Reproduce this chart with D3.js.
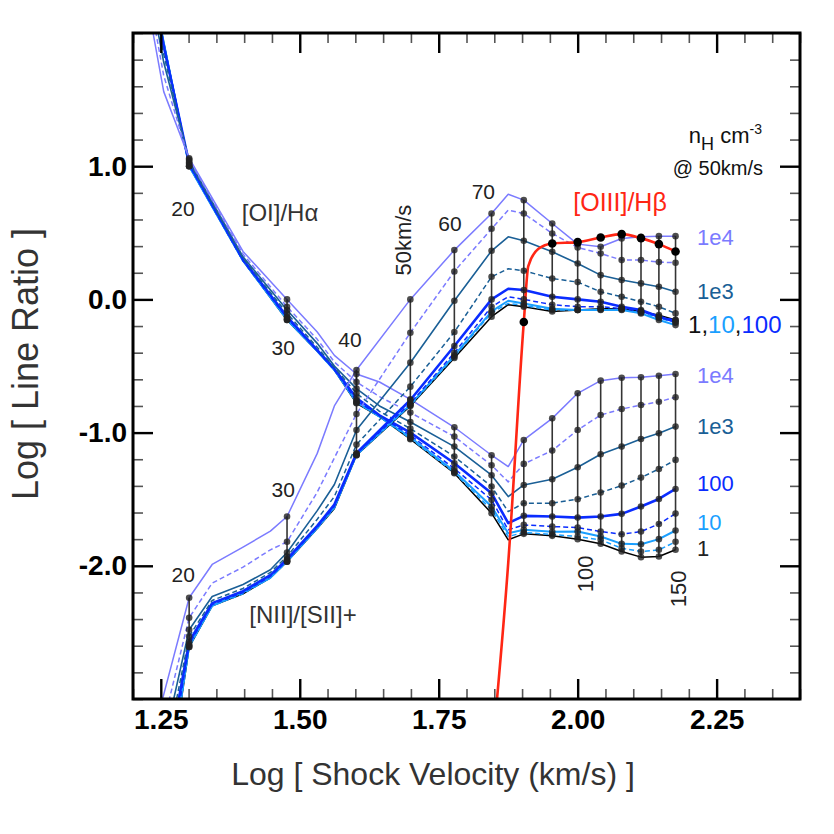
<!DOCTYPE html>
<html>
<head>
<meta charset="utf-8">
<script src="https://cdn.jsdelivr.net/npm/d3@7"></script>
<style>
  body { margin: 0; background: #fff; }
  text { font-family: "Liberation Sans", Helvetica, Arial, sans-serif; }
</style>
</head>
<body>
<svg id="chart" width="834" height="834"></svg>
<script>
// shock velocities (km/s) at the nodes of each family of curves
var oiVel  = [17, 18, 20, 25, 30, 34, 36.5, 40, 44, 50, 60, 70, 75, 80, 90, 100, 110, 120, 130, 140, 150];
var niiVel = [17, 20, 22, 25, 28, 30, 34, 36.5, 40, 50, 60, 70, 75, 80, 90, 100, 110, 120, 130, 140, 150];
// velocities that carry a model point (dot)
var dotVel = [20, 30, 40, 50, 60, 70, 80, 90, 100, 110, 120, 130, 140, 150];

// pre-shock densities nH (cm^-3)
var densities = ['1', '3', '10', '30', '100', '300', '1e3', '3e3', '1e4'];

// log [OI]/Halpha, one array per density
var oi1   = [2.45, 1.93, 1.00, 0.29, -0.155, -0.39, -0.53, -0.78, -0.88, -1.05, -1.305, -1.605, -1.805, -1.76, -1.775, -1.80, -1.835, -1.893, -1.935, -1.93, -1.88];
var oi3   = [2.45, 1.93, 1.00, 0.29, -0.155, -0.39, -0.53, -0.775, -0.88, -1.045, -1.30, -1.58, -1.78, -1.75, -1.765, -1.78, -1.805, -1.868, -1.893, -1.88, -1.82];
var oi10  = [2.45, 1.93, 1.00, 0.29, -0.15, -0.388, -0.53, -0.77, -0.88, -1.035, -1.29, -1.555, -1.755, -1.73, -1.745, -1.743, -1.78, -1.835, -1.838, -1.80, -1.735];
var oi30  = [2.45, 1.92, 1.01, 0.29, -0.14, -0.385, -0.53, -0.76, -0.875, -1.02, -1.27, -1.505, -1.73, -1.693, -1.705, -1.713, -1.743, -1.763, -1.743, -1.686, -1.608];
var oi100 = [2.42, 1.90, 1.02, 0.30, -0.13, -0.38, -0.52, -0.74, -0.87, -1.00, -1.23, -1.455, -1.68, -1.625, -1.63, -1.638, -1.63, -1.61, -1.555, -1.498, -1.423];
var oi300 = [2.38, 1.84, 1.03, 0.31, -0.105, -0.36, -0.51, -0.705, -0.84, -0.97, -1.18, -1.405, -1.593, -1.53, -1.53, -1.50, -1.45, -1.398, -1.338, -1.273, -1.205];
var oi1e3 = [2.33, 1.78, 1.04, 0.32, -0.08, -0.33, -0.50, -0.67, -0.80, -0.92, -1.105, -1.32, -1.48, -1.393, -1.35, -1.26, -1.163, -1.105, -1.048, -1.005, -0.955];
var oi3e3 = [2.25, 1.68, 1.05, 0.34, -0.055, -0.30, -0.47, -0.62, -0.73, -0.85, -1.03, -1.245, -1.37, -1.235, -1.135, -0.98, -0.868, -0.823, -0.793, -0.768, -0.735];
var oi1e4 = [2.13, 1.56, 1.06, 0.36, 0.00, -0.245, -0.42, -0.56, -0.62, -0.75, -0.96, -1.17, -1.255, -1.055, -0.893, -0.705, -0.61, -0.588, -0.585, -0.573, -0.56];

// log [NII]/[SII]+, one array per density
var nii1   = [-4.6, -2.61, -2.30, -2.21, -2.09, -1.97, -1.72, -1.57, -1.17, -0.80, -0.44, -0.13, -0.04, -0.055, -0.09, -0.08, -0.07, -0.07, -0.09, -0.118, -0.155];
var nii3   = [-4.6, -2.61, -2.30, -2.21, -2.09, -1.97, -1.72, -1.565, -1.17, -0.795, -0.43, -0.10, -0.03, -0.045, -0.08, -0.08, -0.075, -0.075, -0.10, -0.14, -0.175];
var nii10  = [-4.5, -2.60, -2.30, -2.20, -2.09, -1.965, -1.715, -1.56, -1.165, -0.79, -0.42, -0.09, -0.01, -0.03, -0.07, -0.08, -0.08, -0.08, -0.105, -0.155, -0.193];
var nii30  = [-4.4, -2.59, -2.29, -2.20, -2.08, -1.96, -1.71, -1.555, -1.16, -0.78, -0.40, -0.055, 0.02, 0.00, -0.04, -0.055, -0.055, -0.068, -0.09, -0.13, -0.155];
var nii100 = [-4.2, -2.57, -2.28, -2.19, -2.07, -1.95, -1.70, -1.54, -1.155, -0.755, -0.35, 0.00, 0.08, 0.07, 0.02, 0.00, -0.018, -0.055, -0.08, -0.13, -0.168];
var nii300 = [-4.0, -2.53, -2.26, -2.17, -2.05, -1.93, -1.65, -1.48, -1.09, -0.655, -0.245, 0.17, 0.23, 0.215, 0.157, 0.13, 0.057, 0.02, -0.018, -0.055, -0.105];
var nii1e3 = [-3.8, -2.48, -2.23, -2.14, -2.03, -1.90, -1.586, -1.39, -0.98, -0.475, -0.01, 0.365, 0.47, 0.44, 0.357, 0.27, 0.182, 0.145, 0.12, 0.095, 0.057];
var nii3e3 = [-3.6, -2.39, -2.13, -2.01, -1.88, -1.82, -1.447, -1.19, -0.86, -0.25, 0.21, 0.53, 0.67, 0.645, 0.495, 0.39, 0.345, 0.295, 0.295, 0.28, 0.275];
var nii1e4 = [-3.36, -2.24, -1.99, -1.86, -1.74, -1.63, -1.156, -0.80, -0.53, 0.00, 0.37, 0.645, 0.79, 0.745, 0.57, 0.415, 0.395, 0.457, 0.47, 0.475, 0.475];

// log [OIII]/Hbeta
var oiiiVel = [70, 75, 80, 81.5, 85, 90, 100, 110, 120, 130, 140, 150];
var oiii    = [-3.45, -1.98, -0.17, 0.25, 0.38, 0.42, 0.43, 0.465, 0.49, 0.46, 0.415, 0.36];

// axis ticks
var xMajor = [1.25, 1.50, 1.75, 2.00, 2.25];
var yMajor = [-2, -1, 0, 1];

// line styles per density (same order as densities)
var lineColor = ['#000000', '#1a9fff', '#1a9fff', '#0a2cff', '#0a2cff', '#1a5f96', '#1a5f96', '#7b7bff', '#7b7bff'];
var lineDash  = [null, '5,3', null, '5,3', null, '5,3', null, '5,3', null];
var lineWidth = [1.5, 1.5, 2, 1.5, 2.6, 1.5, 1.6, 1.5, 1.5];

var oiSeries  = [oi1, oi3, oi10, oi30, oi100, oi300, oi1e3, oi3e3, oi1e4];
var niiSeries = [nii1, nii3, nii10, nii30, nii100, nii300, nii1e3, nii3e3, nii1e4];

var svg = d3.select('#chart');
var plotL = 133, plotR = 800, plotT = 33, plotB = 699;

var x = d3.scaleLinear().domain([1.2, 2.4]).range([plotL, plotR]);
var y = d3.scaleLinear().domain([-3, 2]).range([plotB, plotT]);
var lv = v => Math.log10(v);

svg.append('defs').append('clipPath').attr('id', 'plot')
  .append('rect').attr('x', plotL).attr('y', plotT)
  .attr('width', plotR - plotL).attr('height', plotB - plotT);

var plot = svg.append('g').attr('clip-path', 'url(#plot)');

var line = d3.line().x(d => x(lv(d[0]))).y(d => y(d[1]));

function family(vel, series) {
  return series.map(vals => vel.map((v, i) => [v, vals[i]]));
}
var oiData = family(oiVel, oiSeries);
var niiData = family(niiVel, niiSeries);

// model curves
[oiData, niiData].forEach(function(fam) {
  plot.append('g').selectAll('path')
    .data(fam)
    .enter()
    .append('path')
      .attr('d', line)
      .attr('fill', 'none')
      .attr('stroke', (d, i) => lineColor[i])
      .attr('stroke-width', (d, i) => lineWidth[i])
      .attr('stroke-dasharray', (d, i) => lineDash[i])
      .attr('stroke-linejoin', 'round');
});

// vertical connectors at each model velocity
function valuesAt(vel, series, v) {
  var k = vel.indexOf(v);
  return series.map(s => s[k]);
}
var connectors = [];
dotVel.forEach(function(v) {
  [[oiVel, oiSeries], [niiVel, niiSeries]].forEach(function(f) {
    var vals = valuesAt(f[0], f[1], v);
    connectors.push({v: v, lo: d3.min(vals), hi: d3.max(vals), vals: vals});
  });
});

plot.append('g').selectAll('line')
  .data(connectors)
  .enter()
  .append('line')
    .attr('x1', d => x(lv(d.v)))
    .attr('x2', d => x(lv(d.v)))
    .attr('y1', d => y(d.hi))
    .attr('y2', d => y(d.lo))
    .attr('stroke', '#111')
    .attr('stroke-opacity', 0.85)
    .attr('stroke-width', 1.6);

// [OIII]/Hb curve
plot.append('path')
  .datum(oiiiVel.map((v, i) => [v, oiii[i]]))
  .attr('d', line.curve(d3.curveMonotoneX))
  .attr('fill', 'none')
  .attr('stroke', '#ff2614')
  .attr('stroke-width', 2.6);
line.curve(d3.curveLinear);

// model points
var dots = [];
connectors.forEach(c => c.vals.forEach(val => dots.push([c.v, val])));
plot.append('g').selectAll('circle')
  .data(dots)
  .enter()
  .append('circle')
    .attr('cx', d => x(lv(d[0])))
    .attr('cy', d => y(d[1]))
    .attr('r', 3.3)
    .attr('fill', '#222')
    .attr('fill-opacity', 0.8);

plot.append('g').selectAll('circle')
  .data(oiiiVel.map((v, i) => [v, oiii[i]]).filter(d => dotVel.indexOf(d[0]) >= 0))
  .enter()
  .append('circle')
    .attr('cx', d => x(lv(d[0])))
    .attr('cy', d => y(d[1]))
    .attr('r', 4.3)
    .attr('fill', '#000');

// axes: ticks point inward on all four sides
var xMinor = d3.range(1.2, 2.4001, 0.05).filter(t => !xMajor.some(m => Math.abs(m - t) < 1e-6));
var yMinor = d3.range(-3, 2.0001, 0.2).filter(t => !yMajor.some(m => Math.abs(m - t) < 1e-6));

function styleAxis(g, minor) {
  g.select('.domain').remove();
  g.selectAll('.tick line')
    .attr('stroke', minor ? '#555' : '#000')
    .attr('stroke-width', minor ? 1.6 : 2.4);
  g.selectAll('text')
    .style('font-size', '28px')
    .style('font-weight', 'bold')
    .attr('fill', '#000');
}

svg.append('g').attr('transform', 'translate(0,' + plotB + ')')
  .call(d3.axisBottom(x).tickValues(xMajor).tickSize(-20).tickPadding(10).tickFormat(d => d.toFixed(2)))
  .call(g => styleAxis(g, false));
svg.append('g').attr('transform', 'translate(0,' + plotB + ')')
  .call(d3.axisBottom(x).tickValues(xMinor).tickSize(-10).tickFormat(''))
  .call(g => styleAxis(g, true));
svg.append('g').attr('transform', 'translate(0,' + plotT + ')')
  .call(d3.axisTop(x).tickValues(xMajor).tickSize(-20).tickFormat(''))
  .call(g => styleAxis(g, false));
svg.append('g').attr('transform', 'translate(0,' + plotT + ')')
  .call(d3.axisTop(x).tickValues(xMinor).tickSize(-10).tickFormat(''))
  .call(g => styleAxis(g, true));

svg.append('g').attr('transform', 'translate(' + plotL + ',0)')
  .call(d3.axisLeft(y).tickValues(yMajor).tickSize(-20).tickPadding(6).tickFormat(d => d.toFixed(1)))
  .call(g => styleAxis(g, false));
svg.append('g').attr('transform', 'translate(' + plotL + ',0)')
  .call(d3.axisLeft(y).tickValues(yMinor).tickSize(-10).tickFormat(''))
  .call(g => styleAxis(g, true));
svg.append('g').attr('transform', 'translate(' + plotR + ',0)')
  .call(d3.axisRight(y).tickValues(yMajor).tickSize(-20).tickFormat(''))
  .call(g => styleAxis(g, false));
svg.append('g').attr('transform', 'translate(' + plotR + ',0)')
  .call(d3.axisRight(y).tickValues(yMinor).tickSize(-10).tickFormat(''))
  .call(g => styleAxis(g, true));

// frame
svg.append('rect')
  .attr('x', plotL).attr('y', plotT)
  .attr('width', plotR - plotL).attr('height', plotB - plotT)
  .attr('fill', 'none').attr('stroke', '#000').attr('stroke-width', 3);

// axis titles
svg.append('text')
  .attr('x', 433).attr('y', 785)
  .attr('text-anchor', 'middle')
  .style('font-size', '32px').attr('fill', '#333')
  .text('Log [ Shock Velocity (km/s) ]');
svg.append('text')
  .attr('transform', 'translate(38,364) rotate(-90)')
  .attr('text-anchor', 'middle')
  .style('font-size', '36px').attr('fill', '#333')
  .text('Log [ Line Ratio ]');

// annotations (placed in data coordinates)
var notes = [
  {t: '20', lx: 1.290, v: 0.625, size: 21},
  {t: '[OI]/H\u03b1', lx: 1.4645, v: 0.587, size: 24, color: '#333'},
  {t: '30', lx: 1.4704, v: -0.42, size: 21},
  {t: '40', lx: 1.5904, v: -0.36, size: 21},
  {t: '30', lx: 1.4704, v: -1.487, size: 21},
  {t: '20', lx: 1.2905, v: -2.125, size: 21},
  {t: '[NII]/[SII]+', lx: 1.5059, v: -2.43, size: 24, color: '#333'},
  {t: '60', lx: 1.7703, v: 0.516, size: 21},
  {t: '70', lx: 1.8303, v: 0.752, size: 21},
  {t: '[OIII]/H\u03b2', lx: 2.0762, v: 0.662, size: 25, color: '#ff2614'}
];
svg.append('g').selectAll('text')
  .data(notes)
  .enter()
  .append('text')
    .attr('x', d => x(d.lx))
    .attr('y', d => y(d.v))
    .attr('text-anchor', 'middle')
    .style('font-size', d => d.size + 'px')
    .attr('fill', d => d.color || '#222')
    .text(d => d.t);

// rotated velocity labels
var rotNotes = [
  {t: '50km/s', lx: 1.6858, v: 0.445},
  {t: '100', lx: 2.0132, v: -2.06},
  {t: '150', lx: 2.1806, v: -2.173}
];
svg.append('g').selectAll('text')
  .data(rotNotes)
  .enter()
  .append('text')
    .attr('transform', d => 'translate(' + (x(d.lx) + 8) + ',' + y(d.v) + ') rotate(-90)')
    .attr('text-anchor', 'middle')
    .style('font-size', '22px')
    .attr('fill', '#222')
    .text(d => d.t);

// density labels at the right end of the curves
var densLabels = [
  {t: '1e4', v: 0.411, color: '#7b7bff'},
  {t: '1e3', v: 0.0, color: '#1a5f96'},
  {t: '1e4', v: -0.624, color: '#7b7bff'},
  {t: '1e3', v: -1.007, color: '#1a5f96'},
  {t: '100', v: -1.442, color: '#0a2cff'},
  {t: '10', v: -1.734, color: '#1a9fff'},
  {t: '1', v: -1.93, color: '#222'}
];
svg.append('g').selectAll('text')
  .data(densLabels)
  .enter()
  .append('text')
    .attr('x', x(2.2148))
    .attr('y', d => y(d.v))
    .style('font-size', '22px')
    .attr('fill', d => d.color)
    .text(d => d.t);

var mixed = svg.append('text')
  .attr('x', x(2.1986)).attr('y', y(-0.249))
  .style('font-size', '24px');
mixed.append('tspan').attr('fill', '#111').text('1,');
mixed.append('tspan').attr('fill', '#1a9fff').text('10');
mixed.append('tspan').attr('fill', '#111').text(',');
mixed.append('tspan').attr('fill', '#0a2cff').text('100');

// nH legend title
var nh = svg.append('text')
  .attr('x', 762).attr('y', 143)
  .attr('text-anchor', 'end')
  .style('font-size', '22px').attr('fill', '#111');
nh.append('tspan').text('n');
nh.append('tspan').attr('dy', 7).style('font-size', '18px').text('H');
nh.append('tspan').attr('dy', -7).text('  cm');
nh.append('tspan').attr('dy', -9).style('font-size', '14px').text('-3');

svg.append('text')
  .attr('x', 763).attr('y', 175)
  .attr('text-anchor', 'end')
  .style('font-size', '20px').attr('fill', '#111')
  .text('@ 50km/s');
</script>
</body>
</html>
